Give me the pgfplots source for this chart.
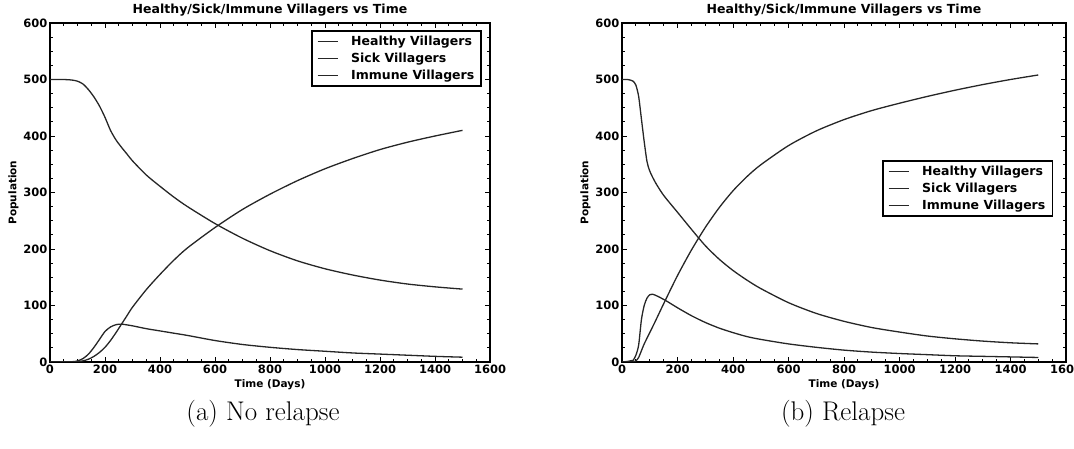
\documentclass[border=0pt]{standalone}
\usepackage{pgfplots}
\pgfplotsset{compat=1.18}
\usepackage{fontspec}
\newfontfamily\djv{DejaVu Sans}
\pgfplotstableread{
t v
0 500
50 500
80 499
100 497
120 492
140 482
160 469
180 453
200 433
220 410
240 393
260 380
280 368
300 356
350 331
400 311
450 292
500 275
600 245
700 219
800 197
900 179
1000 165
1100 154
1200 145
1300 138
1400 133
1500 129
}\LH
\pgfplotstableread{
t v
0 0
80 0.5
100 2
120 6
140 14
160 26
180 40
200 54
220 62
240 66
260 67
300 64
350 59
400 55
450 51
500 47
600 38
700 31
800 26
900 22
1000 19
1100 16
1200 14
1300 12
1400 10
1500 8.5
}\LS
\pgfplotstableread{
t v
0 0
80 0
100 0.5
120 2
140 5
160 10
180 17
200 26
220 38
240 52
260 67
280 82
300 97
350 128
400 155
450 180
500 202
600 238
700 270
800 297
900 321
1000 342
1100 360
1200 376
1300 389
1400 400
1500 410
}\LI
\pgfplotstableread{
t v
0 500
20 500
30 499
40 497
50 490
60 470
70 430
80 390
90 355
100 338
120 318
150 295
200 265
250 235
300 206
350 182
400 162
450 145
500 130
600 105
700 86
800 72
900 61
1000 53
1100 46
1200 41
1300 37
1400 34
1500 32
}\RH
\pgfplotstableread{
t v
0 0
20 1
30 2
40 3
50 12
60 30
70 75
80 100
90 113
100 119
110 120
130 116
160 108
200 96
250 82
300 70
350 60
400 52
450 45
500 40
600 32
700 26
800 21
900 17.5
1000 15
1100 13
1200 11
1300 10
1400 9
1500 8
}\RS
\pgfplotstableread{
t v
0 0
40 0
50 2
60 8
70 20
80 32
100 52
120 72
150 103
200 153
250 198
300 238
350 273
400 303
450 328
500 349
600 383
700 409
800 429
900 445
1000 458
1100 470
1200 481
1300 491
1400 500
1500 508
}\RI
\begin{document}
\begin{tikzpicture}[x=1pt,y=1pt]
\useasboundingbox (0,0) rectangle (1074,449);
\pgfplotsset{
  vl/.style={black!85, no markers, line width=1.3pt, smooth, tension=0.45},
  vill/.style={
    scale only axis, height=339pt,
    xmin=0, xmax=1600, ymin=0, ymax=600,
    xtick={0,200,...,1600}, ytick={0,100,...,600},
    minor x tick num=3, minor y tick num=3,
    tick align=inside, xtick pos=both, ytick pos=both,
    major tick length=5pt, minor tick length=3pt,
    axis line style={line width=1.2pt},
    every tick/.style={black, line width=0.8pt},
    /pgf/number format/1000 sep={},
    /pgf/number format/assume math mode=true,
    ticklabel style={font=\djv\bfseries\fontsize{11.5}{13}\selectfont},
    xticklabel style={yshift=1pt},
    yticklabel style={xshift=1pt},
    title={Healthy/Sick/Immune Villagers vs Time},
    title style={font=\djv\bfseries\fontsize{12.5}{14}\selectfont, yshift=-3pt},
    xlabel={Time (Days)}, ylabel={Population},
    xlabel style={font=\djv\bfseries\fontsize{10.5}{12}\selectfont, yshift=1pt},
    ylabel style={font=\djv\bfseries\fontsize{10.5}{12}\selectfont, yshift=-2pt},
    legend cell align=left,
    legend image code/.code={\draw[#1, line width=1.3pt] (0pt,0pt) -- (20pt,0pt);},
    legend style={font=\djv\bfseries\fontsize{12.5}{14}\selectfont, draw=black, line width=1.6pt,
      inner xsep=5pt, inner ysep=3pt, row sep=2pt},
  }
}
\begin{axis}[vill, width=440pt, at={(50pt,87pt)}, anchor=south west,
  legend style={at={(0.982,0.979)}, anchor=north east}]
\addplot[vl] table[x=t,y=v] {\LH};
\addplot[vl] table[x=t,y=v] {\LS};
\addplot[vl] table[x=t,y=v] {\LI};
\legend{\hspace*{11pt}Healthy Villagers, \hspace*{11pt}Sick Villagers, \hspace*{11pt}Immune Villagers}
\end{axis}
\begin{axis}[vill, width=444pt, at={(622pt,87pt)}, anchor=south west,
  legend style={at={(0.971,0.596)}, anchor=north east}]
\addplot[vl] table[x=t,y=v] {\RH};
\addplot[vl] table[x=t,y=v] {\RS};
\addplot[vl] table[x=t,y=v] {\RI};
\legend{\hspace*{11pt}Healthy Villagers, \hspace*{11pt}Sick Villagers, \hspace*{11pt}Immune Villagers}
\end{axis}
\node[font=\fontsize{27}{31}\selectfont] at (263,35) {(a) No relapse};
\node[font=\fontsize{27}{31}\selectfont] at (843,35) {(b) Relapse};
\end{tikzpicture}
\end{document}
